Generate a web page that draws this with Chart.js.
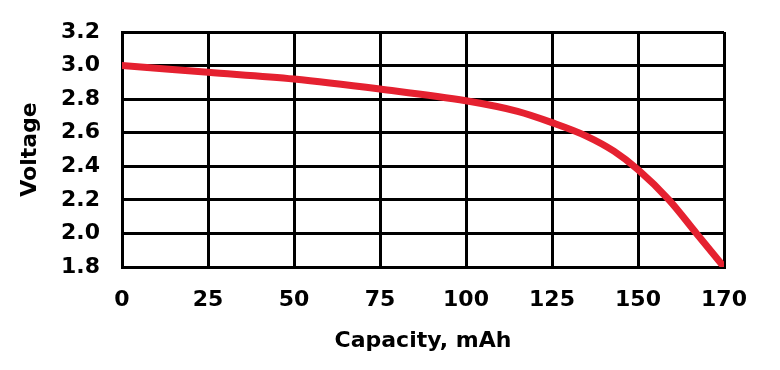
<!DOCTYPE html>
<html>
<head>
<meta charset="utf-8">
<script src="https://cdn.jsdelivr.net/npm/chart.js@4"></script>
<style>
  html, body { margin: 0; padding: 0; background: #ffffff; }
  #wrap { width: 780px; height: 370px; position: relative; }
</style>
</head>
<body>
<div id="wrap"><canvas id="c" width="780" height="370"></canvas></div>
<script>
// Positions along the drawn capacity axis (the last gridline is labelled 170)
const capacity = [0, 25, 50, 75, 100, 115, 125, 135, 143, 150, 159, 167, 175];
const voltage  = [3.0, 2.96, 2.92, 2.86, 2.79, 2.727, 2.66, 2.58, 2.49, 2.38, 2.2, 2.0, 1.8];
const xTickValues = [0, 25, 50, 75, 100, 125, 150, 175];
const xTickLabels = ['0', '25', '50', '75', '100', '125', '150', '170'];
const yTickLabels = ['1.8', '2.0', '2.2', '2.4', '2.6', '2.8', '3.0', '3.2'];
const xTitle = 'Capacity, mAh';
const yTitle = 'Voltage';

const FONT = "'DejaVu Sans', Verdana, sans-serif";

new Chart(document.getElementById('c'), {
  type: 'line',
  data: {
    datasets: [{
      data: capacity.map((x, i) => ({ x: x, y: voltage[i] })),
      borderColor: '#e52130',
      borderWidth: 7,
      pointRadius: 0,
      cubicInterpolationMode: 'monotone',
      borderCapStyle: 'round',
      borderJoinStyle: 'round',
      fill: false
    }]
  },
  options: {
    responsive: false,
    animation: false,
    devicePixelRatio: 1,
    layout: { padding: { top: 32, right: 56, left: 0, bottom: 0 } },
    plugins: { legend: { display: false }, tooltip: { enabled: false } },
    scales: {
      x: {
        type: 'linear',
        min: 0, max: 175,
        afterBuildTicks: (s) => { s.ticks = xTickValues.map(v => ({ value: v })); },
        ticks: {
          color: '#000',
          font: { family: FONT, size: 22, weight: 'bold' },
          padding: 20,
          maxRotation: 0,
          autoSkip: false,
          callback: (v) => { const i = xTickValues.indexOf(v); return i >= 0 ? xTickLabels[i] : ''; }
        },
        grid: { color: '#000', lineWidth: 3, drawTicks: false },
        border: { color: '#000', width: 3 },
        title: {
          display: true, text: xTitle, color: '#000',
          font: { family: FONT, size: 22, weight: 'bold' },
          padding: { top: 0, bottom: 16 }
        },
        afterFit: (s) => { s.height = 103; }
      },
      y: {
        type: 'linear',
        min: 1.8, max: 3.2,
        afterBuildTicks: (s) => { s.ticks = yTickLabels.map(t => ({ value: parseFloat(t) })); },
        ticks: {
          color: '#000',
          font: { family: FONT, size: 22, weight: 'bold' },
          padding: 22,
          autoSkip: false,
          callback: (v) => Number(v).toFixed(1)
        },
        grid: { color: '#000', lineWidth: 3, drawTicks: false },
        border: { color: '#000', width: 3 },
        title: {
          display: true, text: yTitle, color: '#000',
          font: { family: FONT, size: 22, weight: 'bold' },
          padding: { top: 17, bottom: 0 }
        },
        afterFit: (s) => { s.width = 122; s.paddingTop = 0; s.paddingBottom = 0; }
      }
    }
  }
});
</script>
</body>
</html>
